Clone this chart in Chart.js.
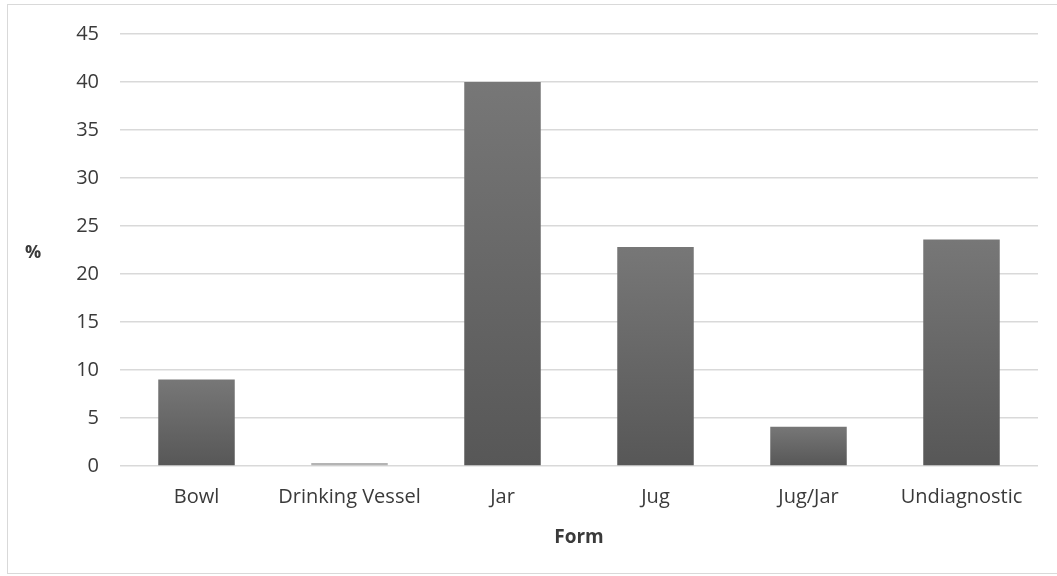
<!DOCTYPE html>
<html>
<head>
<meta charset="utf-8">
<script src="https://cdn.jsdelivr.net/npm/chart.js@4"></script>
<style>
  html, body { margin: 0; padding: 0; background: #ffffff; }
  #wrap { position: relative; width: 1057px; height: 576px; }
</style>
</head>
<body>
<div id="wrap"><canvas id="chart" width="1057" height="576"></canvas></div>
<script>
// Share of vessel forms (%)
const categories = ['Bowl', 'Drinking Vessel', 'Jar', 'Jug', 'Jug/Jar', 'Undiagnostic'];
const percentages = [9.0, 0.3, 40.0, 22.8, 4.1, 23.6];
const yTicks = [0, 5, 10, 15, 20, 25, 30, 35, 40, 45];

const FONT = '"Open Sans", "Noto Sans", sans-serif';
const TEXT = '#3a3a3a';

// Vertical gradient per bar, lighter at the top and darker at the base
function barFill(context) {
  const chart = context.chart;
  const y = chart.scales && chart.scales.y;
  if (!y || context.dataIndex === undefined) return '#666666';
  const top = y.getPixelForValue(percentages[context.dataIndex]);
  const base = y.getPixelForValue(0);
  if (!isFinite(top) || !isFinite(base) || base - top < 4) return '#b4b4b4';
  const g = chart.ctx.createLinearGradient(0, top, 0, base);
  g.addColorStop(0, '#777777');
  g.addColorStop(1, '#575757');
  return g;
}

// Outer frame and the horizontal "%" axis caption
const decorations = {
  id: 'decorations',
  beforeDraw(chart) {
    const ctx = chart.ctx;
    ctx.save();
    ctx.fillStyle = '#ffffff';
    ctx.fillRect(0, 0, chart.width, chart.height);
    ctx.strokeStyle = '#d9d9d9';
    ctx.lineWidth = 1;
    ctx.strokeRect(7.5, 4.5, chart.width, chart.height - 7);
    ctx.restore();
  },
  afterDraw(chart) {
    const ctx = chart.ctx;
    ctx.save();
    ctx.fillStyle = TEXT;
    ctx.font = 'bold 18px ' + FONT;
    ctx.textAlign = 'center';
    ctx.textBaseline = 'middle';
    ctx.fillText('%', 33, 253);
    ctx.restore();
  }
};

new Chart(document.getElementById('chart'), {
  type: 'bar',
  data: {
    labels: categories,
    datasets: [{
      label: '%',
      data: percentages,
      backgroundColor: barFill,
      borderColor: '#666666',
      borderWidth: 0,
      barPercentage: 0.5,
      categoryPercentage: 1.0
    }]
  },
  options: {
    responsive: false,
    animation: false,
    devicePixelRatio: 1,
    layout: { padding: { top: 34, right: 19, bottom: 23, left: 0 } },
    plugins: {
      legend: { display: false },
      tooltip: { enabled: false }
    },
    scales: {
      x: {
        grid: { display: false, drawTicks: false },
        border: { display: false },
        ticks: {
          color: TEXT,
          font: { family: FONT, size: 20 },
          padding: 19,
          maxRotation: 0
        },
        title: {
          display: true,
          text: 'Form',
          color: TEXT,
          font: { family: FONT, size: 19, weight: 'bold' },
          padding: { top: 9 }
        },
        afterFit(scale) { scale.height = 87; }
      },
      y: {
        min: 0,
        max: 45,
        afterBuildTicks(scale) { scale.ticks = yTicks.map(v => ({ value: v })); },
        grid: { color: '#d9d9d9', lineWidth: 1.5, drawTicks: false },
        border: { display: false },
        ticks: {
          color: TEXT,
          font: { family: FONT, size: 20 },
          padding: 21
        },
        afterFit(scale) { scale.width = 120; }
      }
    }
  },
  plugins: [decorations]
});
</script>
</body>
</html>
